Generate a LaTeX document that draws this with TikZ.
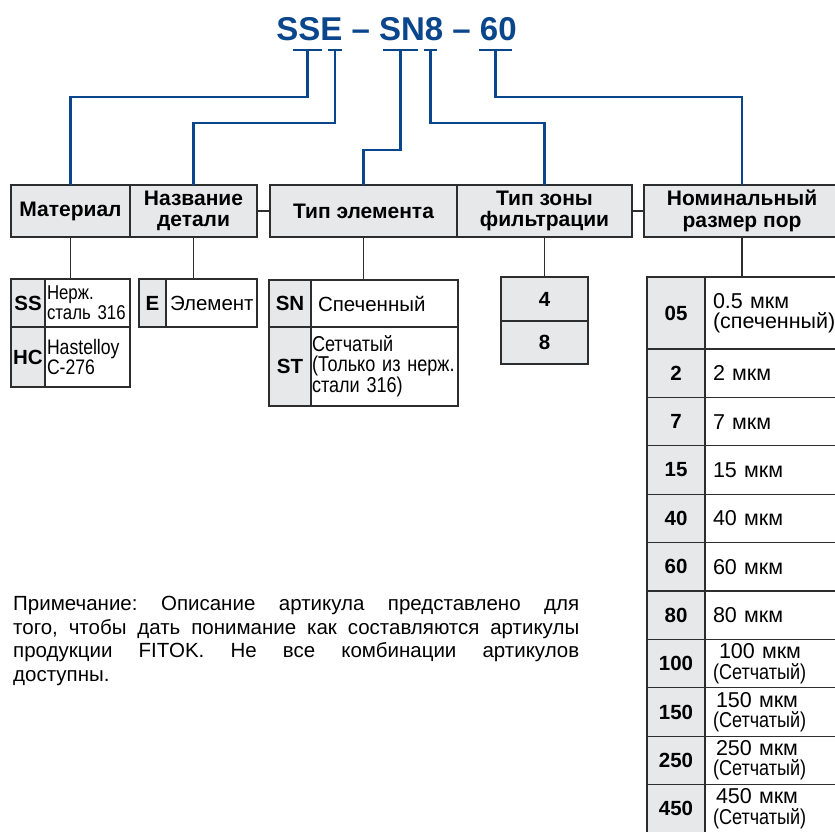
\documentclass[tikz,border=0pt]{standalone}
\usepackage{fontspec}
\setmainfont{Liberation Sans}
\newfontfamily\narrowfont[FakeStretch=0.84]{Liberation Sans}
\usetikzlibrary{positioning}
\definecolor{fitokblue}{RGB}{10,70,140}
\definecolor{cellgray}{RGB}{231,232,234}
\definecolor{rulegray}{RGB}{45,45,45}
\tikzset{
  headbox/.style={draw=rulegray, fill=cellgray, line width=1.2pt, inner sep=0pt, outer sep=0pt,
    minimum height=52, align=center, anchor=north west,
    font=\fontsize{21}{21.5}\selectfont\bfseries},
  codecell/.style={draw=rulegray, fill=cellgray, line width=1.2pt, inner sep=0pt, outer sep=0pt,
    align=center, font=\fontsize{20.5}{21}\selectfont\bfseries},
  desccell/.style={draw=rulegray, fill=white, line width=1.2pt, inner xsep=#1, inner ysep=0pt,
    outer sep=0pt, align=left, font=\fontsize{20.5}{20}\selectfont},
  desccell/.default=4pt,
  sizecell/.style={desccell=8pt, text width=119, font=\fontsize{21.5}{20.5}\selectfont},
  link/.style={draw=fitokblue, line width=2.2pt},
  stem/.style={draw=rulegray, line width=1.2pt},
  partno/.style={text=fitokblue, anchor=base, font=\fontsize{33}{33}\selectfont\bfseries}
}
\begin{document}
\begin{tikzpicture}[x=1pt, y=1pt]
\useasboundingbox (0,0) rectangle (835,-831);
\clip (0,0) rectangle (835,-831);

\node[partno] (code) at (396.5,-40) {SSE – SN8 – 60};
\coordinate (t1) at (307.5,-50);
\coordinate (t2) at (335,-50);
\coordinate (t3) at (400.5,-50);
\coordinate (t4) at (430.5,-50);
\coordinate (t5) at (495.5,-50);
\foreach \t/\w in {t1/14.5, t2/7, t3/17.5, t4/6.5, t5/16.5}
  \draw[link] ([xshift=-\w]\t) -- ([xshift=\w]\t);

\node[headbox, minimum width=119] (mat) at (11,-185) {Материал};
\node[headbox, minimum width=127] (name) at (130,-185) {Название\\детали};
\node[headbox, minimum width=187] (elem) at (270,-185) {Тип элемента};
\node[headbox, minimum width=175] (zone) at (457,-185) {Тип зоны\\фильтрации};
\node[headbox, minimum width=196] (pore) at (644,-185) {Номинальный\\размер пор};
\draw[stem] (name.east) -- (elem.west);
\draw[stem] (zone.east) -- (pore.west);

\draw[link] (t1) -- ++(0,-47) -| (mat.north);
\draw[link] (t2) -- ++(0,-73) -| (name.north);
\draw[link] (t3) -- ++(0,-100) -| (elem.north);
\draw[link] (t4) -- ++(0,-73) -| (zone.north);
\draw[link] (t5) -- ++(0,-47) -| (pore.north);

\node[codecell, minimum width=34, minimum height=48, anchor=north west] (ssC) at (11,-279) {SS};
\node[desccell=2pt, text width=81, minimum height=48, right=0pt of ssC] (ssD)
  {\narrowfont\fontsize{20}{20}\selectfont Нерж.\\\narrowfont\fontsize{20}{20}\selectfont сталь 316};
\node[codecell, minimum width=34, minimum height=60, below=0pt of ssC] (hcC) {HC};
\node[desccell=2pt, text width=81, minimum height=60, right=0pt of hcC] (hcD)
  {\narrowfont\fontsize{21}{22}\selectfont Hastelloy\\\narrowfont\fontsize{21}{22}\selectfont C-276};

\node[codecell, minimum width=27, minimum height=48, anchor=north west] (eC) at (139,-279) {E};
\node[desccell=4pt, text width=83, minimum height=48, right=0pt of eC] (eD) {Элемент};

\node[codecell, minimum width=42, minimum height=47, anchor=north west] (snC) at (269,-280) {SN};
\node[desccell=7pt, text width=133, minimum height=47, right=0pt of snC] (snD) {Спеченный};
\node[codecell, minimum width=42, minimum height=79, below=0pt of snC] (stC) {ST};
\node[desccell=1pt, text width=145, minimum height=79, right=0pt of stC] (stD)
  {\narrowfont\fontsize{21.5}{20}\selectfont Сетчатый\\\narrowfont\fontsize{21.5}{20}\selectfont (Только из нерж.\\\narrowfont\fontsize{21.5}{20}\selectfont стали 316)};

\node[codecell, minimum width=87, minimum height=44, anchor=north west] (z4) at (501,-277) {4};
\node[codecell, minimum width=87, minimum height=43, below=0pt of z4] (z8) {8};

\node[codecell, minimum width=58, minimum height=72, anchor=north west] (pc1) at (647,-277) {05};
\node[sizecell, minimum height=72, right=0pt of pc1] (pd1) {0.5 мкм\\(спеченный)};
\foreach \c/\d [count=\i from 2, remember=\i as \j (initially 1)] in
  {2/{2 мкм}, 7/{7 мкм}, 15/{15 мкм}, 40/{40 мкм}, 60/{60 мкм}, 80/{80 мкм},
   100/{\hspace*{6pt}100 мкм\\{\narrowfont(Сетчатый)}},
   150/{\hspace*{3pt}150 мкм\\{\narrowfont(Сетчатый)}},
   250/{\hspace*{3pt}250 мкм\\{\narrowfont(Сетчатый)}},
   450/{\hspace*{3pt}450 мкм\\{\narrowfont(Сетчатый)}}}
{
  \node[codecell, minimum width=58, minimum height=48.4, below=0pt of pc\j] (pc\i) {\c};
  \node[sizecell, minimum height=48.4, right=0pt of pc\i] (pd\i) {\d};
}

\draw[stem] (mat.south) -- (mat.south |- ssC.north);
\draw[stem] (name.south) -- (name.south |- eC.north);
\draw[stem] (elem.south) -- (elem.south |- snC.north);
\draw[stem] (zone.south) -- (z4.north);
\draw[stem] (pore.south) -- (pore.south |- pc1.north);

\node[anchor=north west, inner sep=0pt, text width=566, align=justify,
  font=\fontsize{20.5}{23.7}\selectfont] (note) at (13,-596)
  {\frenchspacing\tolerance=9999 \emergencystretch=20pt Примечание: Описание артикула представлено для\linebreak
   того, чтобы дать понимание как составляются артикулы\linebreak
   продукции FITOK. Не все комбинации артикулов\linebreak
   доступны.};
\end{tikzpicture}
\end{document}
